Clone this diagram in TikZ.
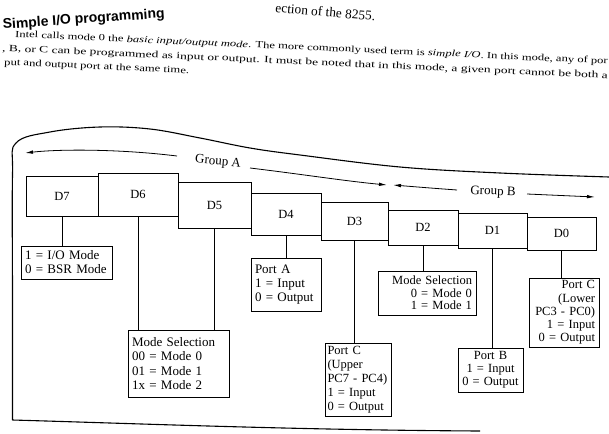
\documentclass[tikz,border=0pt]{standalone}
\usepackage{fontspec}
\setmainfont{Liberation Serif}
\newfontfamily\headfont{Liberation Sans}
\usetikzlibrary{arrows.meta}
\begin{document}
\begin{tikzpicture}[x=1pt,y=-1pt,
  cell/.style={draw, line width=0.9pt, inner sep=0pt, font=\fontsize{12.5}{14}\selectfont},
  info/.style={draw, line width=0.8pt, inner xsep=4pt, inner ysep=1pt, font=\fontsize{13}{14}\selectfont},
  conn/.style={line width=0.8pt},
  grp/.style={line width=0.8pt},
  tip/.style={-{Latex[length=8pt,width=3.5pt]}},
  frame/.style={line width=1.1pt},
  para/.style={anchor=base west, inner sep=0pt, rotate=-2.6},
  grplabel/.style={inner sep=0pt, font=\fontsize{13}{14}\selectfont}
]
\useasboundingbox (0,0) rectangle (609,433);

% page text
\node[anchor=base west, inner sep=0pt, rotate=-5] (top) at (275,12)
  {\resizebox{100pt}{!}{ection of the 8255.}};
\node[anchor=base west, inner sep=0pt, rotate=4] (head) at (3,29)
  {\resizebox{162pt}{!}{\headfont\bfseries Simple I/O programming}};
\node[para] (l1) at (15,37)
  {\resizebox{593pt}{6.6pt}{Intel calls mode 0 the \textit{basic input/output mode}. The more commonly used term is \textit{simple I/O}. In this mode, any of por}};
\node[para] (l2) at (2,51)
  {\resizebox{606pt}{6.6pt}{, B, or C can be programmed as input or output. It must be noted that in this mode, a given port cannot be both a}};
\node[para] (l3) at (4,65)
  {\resizebox{185pt}{6.6pt}{put and output port at the same time.}};

% frame
\draw[frame] plot[smooth, tension=0.6] coordinates {(12.5,420) (12.5,300) (12.5,175) (16,143) (50,132) (100,127) (150,129) (200,138) (250,148) (300,155) (400,167) (500,173) (609,177)};
\draw[frame] (12.5,420) .. controls (150,424) and (300,430) .. (480,431);

% group labels and arrows
\node[grplabel, rotate=-5] (ga) at (218,162) {Group A};
\node[grplabel, rotate=-2] (gb) at (493,192) {Group B};
\coordinate (gaL0) at (177,156);
\coordinate (gaL) at (25,153);
\coordinate (gaR0) at (250,168);
\coordinate (gaR) at (387,185);
\coordinate (gbL0) at (457,190);
\coordinate (gbL) at (393,185);
\coordinate (gbR0) at (527,194);
\coordinate (gbR) at (595,197);
\draw[grp,tip] (gaL0) .. controls (120,149) and (60,149) .. (gaL);
\draw[grp,tip] (gaR0) .. controls (300,174) and (345,181) .. (gaR);
\draw[grp,tip] (gbL0) .. controls (430,188) .. (gbL);
\draw[grp,tip] (gbR0) -- (gbR);

% register cells
\node[cell, minimum width=72pt, minimum height=40pt] (d7) at (62,196) {D7};
\node[cell, minimum width=80pt, minimum height=43pt] (d6) at (138,194.5) {D6};
\node[cell, minimum width=73pt, minimum height=46pt] (d5) at (214.5,205) {D5};
\node[cell, minimum width=70pt, minimum height=42pt] (d4) at (286,214) {D4};
\node[cell, minimum width=67pt, minimum height=38pt] (d3) at (354.5,221) {D3};
\node[cell, minimum width=70pt, minimum height=35pt] (d2) at (423,227.5) {D2};
\node[cell, minimum width=69pt, minimum height=35pt] (d1) at (492.5,230.5) {D1};
\node[cell, minimum width=69pt, minimum height=33pt] (d0) at (561.5,233.5) {D0};

% description boxes
\node[info, text width=83pt, minimum height=33pt, align=left] (b7) at (66.5,262.5)
  {1 = I/O Mode\\0 = BSR Mode};
\node[info, text width=93pt, minimum height=67pt, align=left, font=\fontsize{13}{14.5}\selectfont] (ms) at (178.5,363.5)
  {Mode Selection\\00 = Mode 0\\01 = Mode 1\\1x = Mode 2};
\node[info, text width=62pt, minimum height=53pt, align=left] (pa) at (286,284.5)
  {Port A\\1 = Input\\0 = Output};
\node[info, inner xsep=2.5pt, text width=61pt, minimum height=73pt, align=left, font=\fontsize{12.5}{13.9}\selectfont] (pcu) at (358,379.5)
  {Port C\\(Upper\\PC7 - PC4)\\1 = Input\\0 = Output};
\node[info, text width=90pt, minimum height=44pt, align=right, font=\fontsize{12.5}{12.5}\selectfont] (msb) at (427,293)
  {Mode Selection\\0 = Mode 0\\1 = Mode 1};
\node[info, text width=57pt, minimum height=44pt, align=center, font=\fontsize{12.5}{12.8}\selectfont] (pb) at (490.5,370)
  {Port B\\1 = Input\\0 = Output};
\node[info, text width=62pt, minimum height=69pt, align=right, font=\fontsize{12.5}{13.3}\selectfont] (pcl) at (564,312.5)
  {Port C\\(Lower\\PC3 - PC0)\\1 = Input\\0 = Output};

% connectors
\draw[conn] (d7.south) -- (d7.south |- b7.north);
\draw[conn] (d6.south) -- (d6.south |- ms.north);
\draw[conn] (d5.south) -- (d5.south |- ms.north);
\draw[conn] (d4.south) -- (d4.south |- pa.north);
\draw[conn] (d3.south) -- (d3.south |- pcu.north);
\draw[conn] (d2.south) -- (d2.south |- msb.north);
\draw[conn] (d1.south) -- (d1.south |- pb.north);
\draw[conn] (d0.south) -- (d0.south |- pcl.north);
\end{tikzpicture}
\end{document}
